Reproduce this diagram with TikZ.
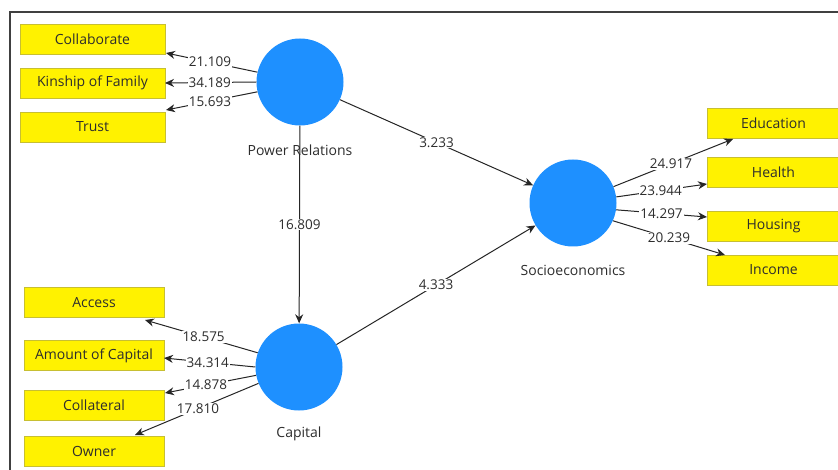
\documentclass[tikz,border=0pt]{standalone}
\usepackage{fontspec}
\setmainfont{Open Sans}
\usetikzlibrary{arrows.meta}
\definecolor{pblue}{RGB}{30,144,255}
\definecolor{txt}{RGB}{45,45,45}
\begin{document}
\begin{tikzpicture}[x=1pt,y=-1pt,
  ind/.style={rectangle,fill=yellow,draw=yellow!75!black,line width=0.5pt,minimum width=145,minimum height=30,inner sep=0pt,font=\fontsize{14}{16}\selectfont,text=txt},
  lat/.style={circle,fill=pblue,minimum size=87,inner sep=0pt},
  latlbl/.style={font=\fontsize{14}{16}\selectfont,text=txt},
  lbl/.style={fill=white,inner sep=1pt,font=\fontsize{13.5}{16}\selectfont,text=txt},
  arr/.style={draw=black!85,line width=1pt,-{Stealth[length=9pt,width=8pt]}}]
\useasboundingbox (0,0) rectangle (838,470);
\fill[white] (0,0) rectangle (838,470);
\draw[black!75,line width=2.2pt] (10,475) -- (10,12) -- (845,12);
% latent variables
\node[lat] (pr) at (300,82) {};
\node[lat] (capc) at (299,367) {};
\node[lat] (soc) at (573,203) {};
\node[latlbl] (prl) at (300,150) {Power Relations};
\node[latlbl] (capl) at (299,434) {Capital};
\node[latlbl] (socl) at (573,270) {Socioeconomics};
% indicator boxes
\node[ind] (collab) at (92.5,39) {Collaborate};
\node[ind] (kin) at (92.5,83) {Kinship of Family};
\node[ind] (trust) at (92.5,127) {Trust};
\node[ind,minimum width=140] (access) at (94,302.5) {Access};
\node[ind,minimum width=140] (amount) at (94,355.5) {Amount of Capital};
\node[ind,minimum width=140] (collat) at (94,405) {Collateral};
\node[ind,minimum width=140] (owner) at (94,451.5) {Owner};
\node[ind,minimum width=133] (edu) at (773.5,123) {Education};
\node[ind,minimum width=133] (health) at (773.5,172.5) {Health};
\node[ind,minimum width=133] (housing) at (773.5,226) {Housing};
\node[ind,minimum width=133] (income) at (773.5,270) {Income};
% arrow tip coordinates
\coordinate (collabTip) at (166,53);
\coordinate (kinTip) at (165,83);
\coordinate (trustTip) at (166,110);
\coordinate (accTip) at (145,320);
\coordinate (amtTip) at (164,358);
\coordinate (colTip) at (165,393);
\coordinate (ownTip) at (135,435);
\coordinate (eduTip) at (733,139);
\coordinate (healthTip) at (707,184);
\coordinate (housTip) at (707,217);
\coordinate (incTip) at (725,255);
% structural paths
\draw[arr] (pr) -- node[lbl,pos=0.5]{3.233} (soc);
\draw[arr] (capc) -- node[lbl,pos=0.5]{4.333} (soc);
\draw[arr] (pr) -- node[lbl,pos=0.5]{16.809} (capc);
% power relations loadings
\draw[arr] (pr.167) -- node[lbl,pos=0.52]{21.109} (collabTip);
\draw[arr] (pr.180) -- node[lbl,pos=0.51]{34.189} (kinTip);
\draw[arr] (pr.193) -- node[lbl,pos=0.52]{15.693} (trustTip);
% capital loadings
\draw[arr] (capc.161) -- node[lbl,pos=0.48]{18.575} (accTip);
\draw[arr] (capc.180) -- node[lbl,pos=0.52]{34.314} (amtTip);
\draw[arr] (capc.191) -- node[lbl,pos=0.55]{14.878} (colTip);
\draw[arr] (capc.202) -- node[lbl,pos=0.49]{17.810} (ownTip);
% socioeconomics loadings
\draw[arr] (soc.22) -- node[lbl,pos=0.48]{24.917} (eduTip);
\draw[arr] (soc.8) -- node[lbl,pos=0.49]{23.944} (healthTip);
\draw[arr] (soc.-9) -- node[lbl,pos=0.5]{14.297} (housTip);
\draw[arr] (soc.-24) -- node[lbl,pos=0.5]{20.239} (incTip);
\end{tikzpicture}
\end{document}
